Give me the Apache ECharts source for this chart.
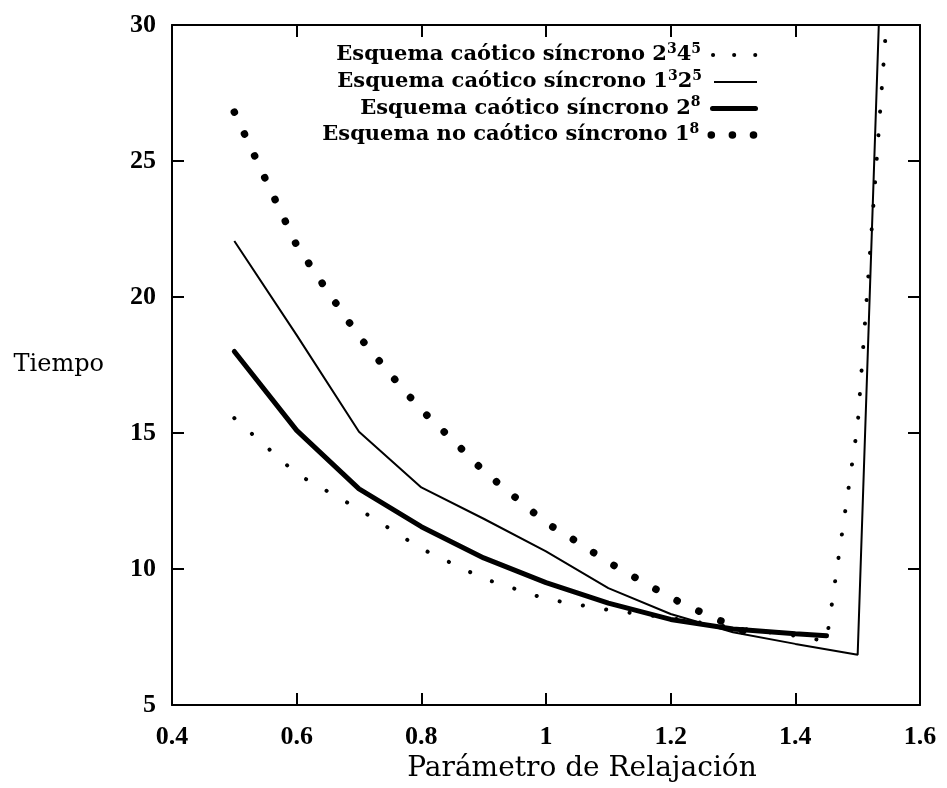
<!DOCTYPE html>
<html>
<head>
<meta charset="utf-8">
<script src="https://cdn.jsdelivr.net/npm/echarts@6/dist/echarts.min.js"></script>
<style>
  html, body { margin: 0; padding: 0; background: #fff; }
  #chart { width: 947px; height: 788px; }
</style>
</head>
<body>
<div id="chart"></div>
<script>
// Tiempo frente al parámetro de relajación para cuatro esquemas síncronos

// Axis ranges and tick spacing
const xMin = 0.4, xMax = 1.6, xStep = 0.2;
const yMin = 5, yMax = 30, yStep = 5;

// Series names (legend keys) and their rich-text labels with superscripts
const names = [
  'Esquema caótico síncrono 2³4⁵',
  'Esquema caótico síncrono 1³2⁵',
  'Esquema caótico síncrono 2⁸',
  'Esquema no caótico síncrono 1⁸'
];
const labels = [
  'Esquema caótico síncrono 2{s|3}4{s|5}',
  'Esquema caótico síncrono 1{s|3}2{s|5}',
  'Esquema caótico síncrono 2{s|8}',
  'Esquema no caótico síncrono 1{s|8}'
];

// Esquema caótico síncrono 2^3 4^5
const x1 = [0.5, 0.6, 0.7, 0.8, 0.9, 1.0, 1.1, 1.2, 1.3, 1.4, 1.45, 1.5, 1.55];
const y1 = [15.55, 13.5, 12.2, 10.75, 9.65, 8.9, 8.5, 8.2, 7.85, 7.55, 7.35, 15.3, 31.3];

// Esquema caótico síncrono 1^3 2^5
const x2 = [0.5, 0.6, 0.7, 0.8, 0.9, 1.0, 1.1, 1.2, 1.3, 1.4, 1.5, 1.55];
const y2 = [22.06, 18.6, 15.05, 13.0, 11.85, 10.65, 9.3, 8.35, 7.68, 7.25, 6.85, 41];

// Esquema caótico síncrono 2^8
const x3 = [0.5, 0.6, 0.7, 0.8, 0.9, 1.0, 1.1, 1.2, 1.3, 1.4, 1.45];
const y3 = [18.0, 15.1, 12.95, 11.56, 10.41, 9.5, 8.75, 8.15, 7.8, 7.62, 7.55];

// Esquema no caótico síncrono 1^8
const x4 = [0.5, 0.55, 0.6, 0.65, 0.7, 0.75, 0.8, 0.85, 0.9, 0.95, 1.0, 1.05, 1.1, 1.15, 1.2, 1.25, 1.3, 1.35];
const y4 = [26.8, 24.33, 21.9, 20.2, 18.55, 17.17, 15.85, 14.75, 13.6, 12.65, 11.7, 11.0, 10.25, 9.6, 8.95, 8.4, 7.9, 7.35];

const pairs = (xs, ys) => xs.map((v, i) => [v, ys[i]]);

const INK = '#000';
const tickFont = { fontFamily: 'Liberation Serif', fontWeight: 'bold', fontSize: 26, color: INK };
const titleFont = { fontFamily: 'DejaVu Serif', fontSize: 28, color: INK };

// Line styles for each series and the matching legend samples
const styles = [
  { color: INK, width: 4, type: [0.1, 23.5], cap: 'round' },
  { color: INK, width: 2, type: 'solid', cap: 'butt' },
  { color: INK, width: 5, type: 'solid', cap: 'round' },
  { color: INK, width: 7.5, type: [0.1, 24], cap: 'round' }
];
const legendStyles = [
  { color: INK, width: 4, type: [0.1, 21], cap: 'round' },
  { color: INK, width: 2, type: 'solid', cap: 'butt' },
  { color: INK, width: 5, type: 'solid', cap: 'round' },
  { color: INK, width: 7.5, type: [0.1, 21], cap: 'round' }
];
const legendRowCenters = [55, 82, 108.5, 135];

const frameAxis = {
  axisLine: { show: true, onZero: false, lineStyle: { color: INK, width: 2 } },
  axisTick: { show: true, inside: true, length: 12, lineStyle: { color: INK, width: 2 } },
  splitLine: { show: false }
};

const fmtX = v => String(Number(v.toFixed(1)));

const option = {
  animation: false,
  backgroundColor: '#fff',
  grid: { left: 172, right: 27, top: 25, bottom: 76, containLabel: false },
  xAxis: [
    Object.assign({}, frameAxis, {
      type: 'value', position: 'bottom', min: xMin, max: xMax, interval: xStep,
      axisLabel: Object.assign({ margin: 19, formatter: fmtX }, tickFont),
      name: 'Parámetro de Relajación', nameLocation: 'middle', nameGap: 48,
      nameTextStyle: Object.assign({ padding: [0, 0, 0, 72] }, titleFont)
    }),
    Object.assign({}, frameAxis, {
      type: 'value', position: 'top', min: xMin, max: xMax, interval: xStep,
      axisLabel: { show: false }
    })
  ],
  yAxis: [
    Object.assign({}, frameAxis, {
      type: 'value', position: 'left', min: yMin, max: yMax, interval: yStep,
      axisLabel: Object.assign({ margin: 16 }, tickFont),
      name: 'Tiempo', nameLocation: 'middle', nameRotate: 0, nameGap: 68,
      nameTextStyle: Object.assign({}, titleFont, { fontSize: 24, padding: [6, 0, 0, 0] })
    }),
    Object.assign({}, frameAxis, {
      type: 'value', position: 'right', min: yMin, max: yMax, interval: yStep,
      axisLabel: { show: false }
    })
  ],
  legend: names.map((name, i) => ({
    data: [name],
    right: 189,
    top: legendRowCenters[i] - 13,
    align: 'right',
    orient: 'horizontal',
    padding: 0,
    itemWidth: 43,
    itemHeight: 12,
    selectedMode: false,
    lineStyle: legendStyles[i],
    itemStyle: { color: 'rgba(0,0,0,0)', borderWidth: 0, opacity: 0 },
    formatter: () => labels[i],
    textStyle: {
      fontFamily: 'DejaVu Serif', fontWeight: 'bold', fontSize: 21, lineHeight: 26, color: INK,
      padding: [0, 7, 0, 0],
      rich: {
        s: { fontFamily: 'DejaVu Serif', fontWeight: 'bold', fontSize: 14, lineHeight: 18,
             verticalAlign: 'top', color: INK }
      }
    }
  })),
  series: [
    [x1, y1], [x2, y2], [x3, y3], [x4, y4]
  ].map(([xs, ys], i) => ({
    name: names[i],
    type: 'line',
    data: pairs(xs, ys),
    symbol: 'none',
    smooth: false,
    clip: true,
    lineStyle: styles[i],
    itemStyle: { color: INK },
    silent: true
  }))
};

const chart = echarts.init(document.getElementById('chart'), null, { renderer: 'canvas' });
chart.setOption(option);
</script>
</body>
</html>
